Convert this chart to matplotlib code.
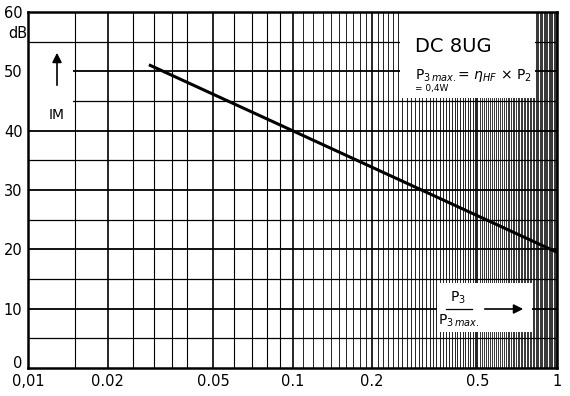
import numpy as np
import matplotlib
matplotlib.use('Agg')
import matplotlib.pyplot as plt
from matplotlib.patches import Rectangle
from matplotlib.transforms import ScaledTranslation

# curve (P3/P3max, IM in dB)
ratio = [0.029, 0.1, 1.0]
im_db = [51.0, 40.0, 19.5]

xtick_vals = [0.01, 0.02, 0.05, 0.1, 0.2, 0.5, 1]
xtick_labels = ['0,01', '0.02', '0.05', '0.1', '0.2', '0.5', '1']
ytick_vals = [0, 10, 20, 30, 40, 50, 60]

plt.rcParams['font.family'] = ['DejaVu Sans']

fig = plt.figure(figsize=(5.7, 3.96), dpi=100)
ax = fig.add_axes([28/570, 28/396, 529/570, 356/396])
ax.set_xscale('log')
ax.set_xlim(0.01, 1)
ax.set_ylim(0, 60)

# grid of the chart paper
for v in [0.015, 0.025, 0.03, 0.035, 0.04, 0.06, 0.07, 0.08, 0.09]:
    ax.axvline(v, color='black', lw=0.8, zorder=1)
for i in range(11, 100):
    if i in (20, 50):
        continue
    ax.axvline(i/100, color='black', lw=0.6 if i < 50 else 0.55, zorder=1)
for v in [0.02, 0.05, 0.1, 0.2, 0.5]:
    ax.axvline(v, color='black', lw=1.2, zorder=1)
for v in range(5, 60, 10):
    ax.axhline(v, color='black', lw=0.9, zorder=1)
for v in range(10, 60, 10):
    ax.axhline(v, color='black', lw=1.3, zorder=1)

# white label boxes
for (x0, y0, x1, y1) in [(400, 12, 535, 98), (437, 283, 532, 332), (29, 48, 73, 128)]:
    ax.add_patch(Rectangle(((x0-28)/529, (368-y1)/356), (x1-x0)/529, (y1-y0)/356,
                           transform=ax.transAxes, facecolor='white',
                           edgecolor='none', zorder=2))

ax.plot(ratio, im_db, color='black', lw=2.2, zorder=3)

ax.set_xticks(xtick_vals)
ax.set_xticklabels(xtick_labels)
ax.set_xticks([], minor=True)
ax.set_yticks(ytick_vals)
ax.tick_params(length=0, labelsize=10.5, pad=4)
ylab0 = ax.get_yticklabels()[0]
ylab0.set_transform(ylab0.get_transform() + ScaledTranslation(0, 6/100, fig.dpi_scale_trans))
for s in ax.spines.values():
    s.set_linewidth(1.8)
    s.set_zorder(4)

fig.text(18/570, 1 - 33/396, 'dB', fontsize=10.5, ha='center', va='center')

# labels inside the chart
def px(x, y):
    return ((x-28)/529, (368-y)/356)

ax.text(*px(415, 46), 'DC 8UG', transform=ax.transAxes, fontsize=14,
        ha='left', va='center', zorder=5)
ax.text(*px(415, 76), r'P$_{3\,max.}$= $\eta_{HF}$ $\times$ P$_2$',
        transform=ax.transAxes, fontsize=10, ha='left', va='center', zorder=5)
ax.text(*px(415, 89), '= 0,4W', transform=ax.transAxes, fontsize=6.5,
        ha='left', va='center', zorder=5)

ax.annotate('', xy=px(57, 50), xytext=px(57, 88), xycoords='axes fraction',
            arrowprops=dict(arrowstyle='-|>', color='black', lw=1.2,
                            mutation_scale=14), zorder=5)
ax.text(*px(57, 115), 'IM', transform=ax.transAxes, fontsize=10,
        ha='center', va='center', zorder=5)

ax.text(*px(458, 298), r'P$_3$', transform=ax.transAxes, fontsize=10,
        ha='center', va='center', zorder=5)
ax.plot([px(446, 309)[0], px(472, 309)[0]], [px(446, 309)[1]]*2,
        transform=ax.transAxes, color='black', lw=0.9, zorder=5)
ax.text(*px(459, 321), r'P$_{3\,max.}$', transform=ax.transAxes, fontsize=10,
        ha='center', va='center', zorder=5)
ax.annotate('', xy=px(526, 309), xytext=px(482, 309), xycoords='axes fraction',
            arrowprops=dict(arrowstyle='-|>', color='black', lw=1.2,
                            mutation_scale=14), zorder=5)

plt.savefig('out.png', dpi=100)
